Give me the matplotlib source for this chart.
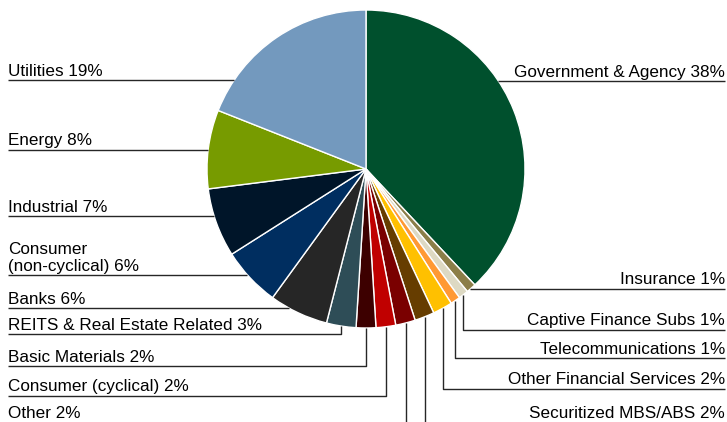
import numpy as np
import matplotlib
matplotlib.use("Agg")
import matplotlib.pyplot as plt

# Portfolio allocation by sector (percent), clockwise from 12 o'clock
sectors = [
    "Government & Agency", "Insurance", "Captive Finance Subs", "Telecommunications",
    "Other Financial Services", "Securitized MBS/ABS", "Other", "Consumer (cyclical)",
    "Basic Materials", "REITS & Real Estate Related", "Banks", "Consumer\n(non-cyclical)",
    "Industrial", "Energy", "Utilities",
]
weights = [38, 1, 1, 1, 2, 2, 2, 2, 2, 3, 6, 6, 7, 8, 19]
colors = [
    "#00502D", "#8C7E48", "#DDD9C3", "#FF9933", "#FFC000", "#663D00", "#7A0000",
    "#C00000", "#3D0000", "#2E4D57", "#262626", "#002E60", "#001529", "#779B00", "#7399BE",
]

# Label placement: side (+1 right, -1 left) and underline row in pixels from the top
label_side = [1, 1, 1, 1, 1, 1, -1, -1, -1, -1, -1, -1, -1, -1, -1]
label_row = [81, 289, 330, 358, 389, 423, 423, 396, 366, 334, 308, 275, 216, 150, 80]

W, H = 727, 422
fig = plt.figure(figsize=(W / 100, H / 100), dpi=100)
ax = fig.add_axes([0, 0, 1, 1])

cx, cy, R = 366.0, H - 169.0, 159.0
ax.pie(weights, colors=colors, startangle=90, counterclock=False,
       center=(cx, cy), radius=R,
       wedgeprops=dict(edgecolor="white", linewidth=1.0))
ax.set_xlim(0, W)
ax.set_ylim(0, H)
ax.set_aspect("equal")
ax.axis("off")

x_left, x_right = 8, 725
line_kw = dict(color="#262626", lw=1.0, solid_capstyle="butt")
text_kw = dict(fontsize=12.3, family=["Liberation Sans", "DejaVu Sans"], color="black",
               va="bottom", linespacing=1.15)

total = float(sum(weights))
ends = np.cumsum(weights) / total * 360.0
starts = ends - np.array(weights) / total * 360.0

for name, w, side, row, a0, a1 in zip(sectors, weights, label_side, label_row, starts, ends):
    y = H - row
    dy = y - cy
    direct = False
    if abs(dy) < R:
        ex = cx + side * np.sqrt(R ** 2 - dy ** 2)
        theta = np.degrees(np.arctan2(ex - cx, dy)) % 360.0
        direct = a0 <= theta <= a1
    if direct:
        xs, ys = [ex], [y]
    else:
        mid = np.radians((a0 + a1) / 2.0)
        px, py = cx + R * np.sin(mid), cy + R * np.cos(mid)
        xs, ys = [px, px], [y, py]
    if side > 0:
        ax.plot([x_right] + xs, [y] + ys, **line_kw)
        ax.text(x_right, y + 1.5, f"{name} {w}%", ha="right", **text_kw)
    else:
        ax.plot([x_left] + xs, [y] + ys, **line_kw)
        ax.text(x_left, y + 1.5, f"{name} {w}%", ha="left", **text_kw)

fig.savefig("out.png", dpi=100)
